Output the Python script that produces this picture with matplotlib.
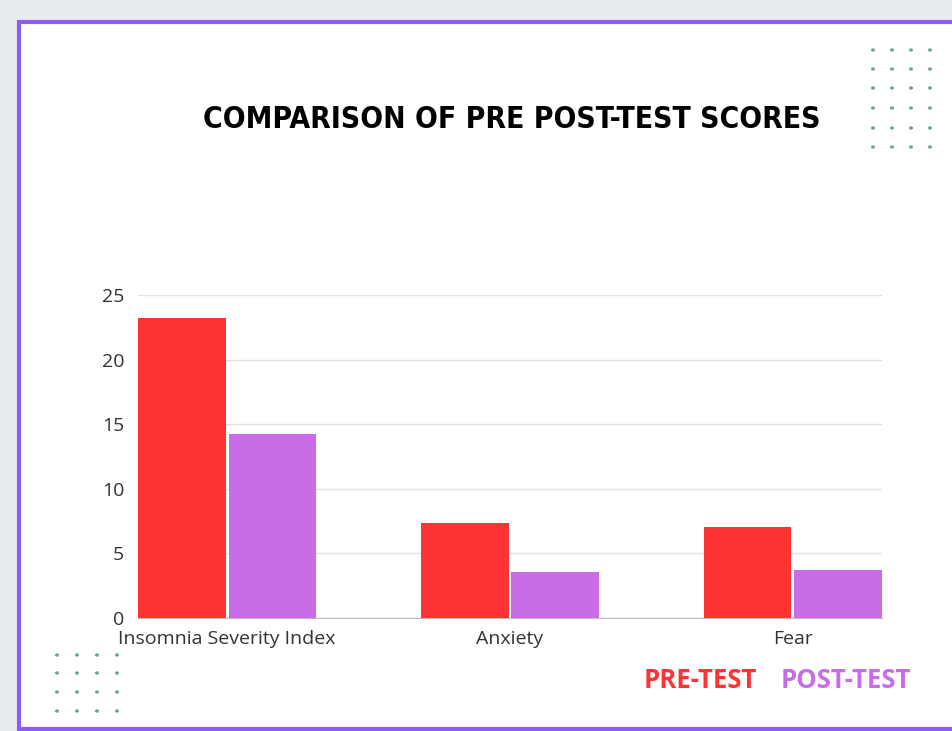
import numpy as np
import matplotlib
matplotlib.use('Agg')
import matplotlib.pyplot as plt
from matplotlib.patches import Rectangle

categories = ['Insomnia Severity Index', 'Anxiety', 'Fear']
pre_test = [23.2, 7.35, 7.05]
post_test = [14.25, 3.55, 3.7]
yticks = [0, 5, 10, 15, 20, 25]

red = '#FF3333'
violet = '#C86DE8'

fig = plt.figure(figsize=(9.52, 7.31), dpi=100)
fig.patch.set_facecolor('#E9ECEF')

# card with purple border
card = Rectangle((19 / 952, 0.003), 1.0, 1 - 24 / 731, transform=fig.transFigure,
                 facecolor='white', edgecolor='#8B5CF6', linewidth=3, zorder=-5)
fig.patches.append(card)

# dot grids
def dots(xs, ys):
    for x in xs:
        for y in ys:
            fig.patches.append(plt.Circle((x / 952, 1 - y / 731), 1.3 / 952,
                                          transform=fig.transFigure,
                                          color='#6FA3A3', zorder=-4))

dots([873, 892, 911, 930], [50, 69, 88, 108, 128, 147])
dots([57, 77, 97, 117], [655, 673, 692, 711])

ax = fig.add_axes([138 / 952, 1 - 618 / 731, 744 / 952, 323 / 731])
ax.set_zorder(2)
ax.set_facecolor('none')
x = np.arange(len(categories))
w = 0.31
ax.bar(x - w / 2 - 0.005, pre_test, w, color=red, zorder=3)
ax.bar(x + w / 2 + 0.005, post_test, w, color=violet, zorder=3)
ax.set_xlim(-0.315, 2.315)
ax.set_ylim(0, 25)
ax.set_yticks(yticks)
ax.set_xticks(x)
ax.set_xticklabels(categories)
ax.grid(axis='y', color='#E3E3E3', linewidth=1, zorder=0)
for s in ['top', 'right', 'left']:
    ax.spines[s].set_visible(False)
ax.spines['bottom'].set_color('#BBBBBB')
ax.tick_params(length=0, labelsize=14, labelcolor='#333333')
ax.tick_params(axis='x', pad=9)
ax.tick_params(axis='y', pad=10)
for lab in ax.get_xticklabels() + ax.get_yticklabels():
    lab.set_family('Open Sans')

fig.text(512 / 952, 1 - 120 / 731, 'COMPARISON OF PRE POST-TEST SCORES',
         ha='center', va='center', fontsize=21.5, fontweight='heavy',
         family='DejaVu Sans', stretch='condensed', color='black')
fig.text(700 / 952, 1 - 681 / 731, 'PRE-TEST', ha='center', va='center',
         fontsize=18.5, fontweight='bold', family='Open Sans', color=red)
fig.text(846 / 952, 1 - 681 / 731, 'POST-TEST', ha='center', va='center',
         fontsize=18.5, fontweight='bold', family='Open Sans', color=violet)

fig.savefig('out.png', dpi=100, facecolor=fig.get_facecolor())
